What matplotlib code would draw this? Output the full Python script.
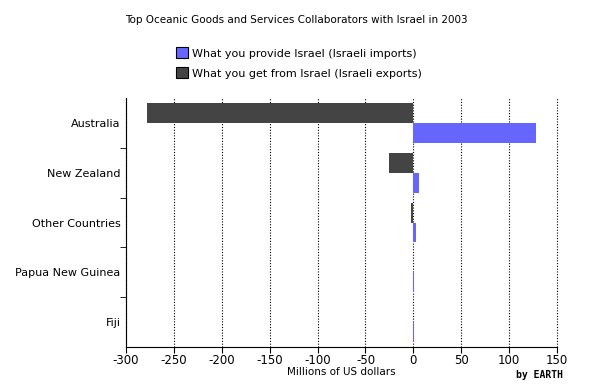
import matplotlib
matplotlib.use("Agg")
import matplotlib.pyplot as plt
import numpy as np
from matplotlib.patches import Patch

countries = ["Australia", "New Zealand", "Other Countries", "Papua New Guinea", "Fiji"]
imports = [128.5, 6.0, 3.0, 0.6, 0.4]        # what you provide Israel
exports = [-278.0, -25.5, -2.5, -0.3, -0.2]  # what you get from Israel

C_IMP = "#6666ff"
C_EXP = "#444444"

plt.rcParams["axes.unicode_minus"] = False

fig = plt.figure(figsize=(5.92, 3.88), dpi=100)
ax = fig.add_axes([126 / 592, 1 - 347 / 388, 431 / 592, 249 / 388])

y = np.arange(len(countries))
h = 0.4
ax.barh(y - h / 2, exports, height=h, color=C_EXP, zorder=2)
ax.barh(y + h / 2, imports, height=h, color=C_IMP, zorder=2)

ax.set_xlim(-300, 150)
ax.set_ylim(len(countries) - 0.5, -0.5)
ax.set_xticks(np.arange(-300, 151, 50))
ax.set_yticks(y)
ax.set_yticklabels(countries)
ax.set_yticks(np.arange(0.5, len(countries) - 1, 1), minor=True)
ax.tick_params(axis="y", which="major", length=0, pad=4, labelsize=8)
ax.tick_params(axis="y", which="minor", length=4, direction="out")
ax.tick_params(axis="x", length=4, direction="out", labelsize=8.5, pad=1)
ax.grid(axis="x", color="black", linestyle=(0, (1, 1.5)), linewidth=0.8, zorder=1)
for gl in ax.get_xgridlines():
    gl.set_clip_on(False)

for s in ("top", "right"):
    ax.spines[s].set_visible(False)

ax.set_xlabel("Millions of US dollars", fontsize=7.5, labelpad=0)

fig.text(0.5, 1 - 20 / 388, "Top Oceanic Goods and Services Collaborators with Israel in 2003",
         ha="center", va="center", fontsize=7.5)

handles = [Patch(facecolor=C_IMP, edgecolor="black", linewidth=0.8),
           Patch(facecolor=C_EXP, edgecolor="black", linewidth=0.8)]
fig.legend(handles, ["What you provide Israel (Israeli imports)",
                     "What you get from Israel (Israeli exports)"],
           loc="center", bbox_to_anchor=(0.505, 1 - 63 / 388), frameon=False,
           fontsize=8, handlelength=1.1, handleheight=1.1, handletextpad=0.3,
           labelspacing=0.8, borderpad=0)

fig.text(540 / 592, 1 - 375 / 388, "by EARTH", ha="center", va="center",
         fontsize=7, family="DejaVu Sans Mono", fontweight="bold")

fig.savefig("out.png", dpi=100)
